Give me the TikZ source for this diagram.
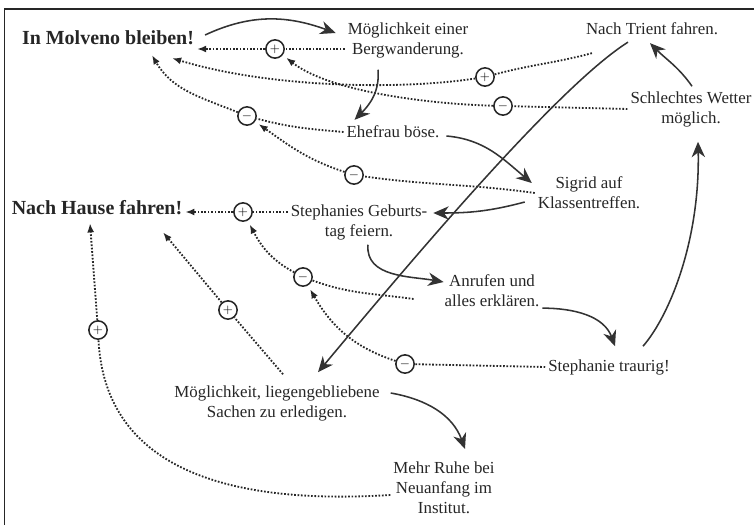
\documentclass[tikz,border=0pt]{standalone}
\usepackage{fontspec}
\setmainfont{Liberation Serif}
\usetikzlibrary{arrows.meta, calc}
\tikzstyle{factor} = [align=center, inner sep=2pt, text=black!85, font=\fontsize{12}{14.2}\selectfont]
\tikzstyle{goal} = [factor, font=\fontsize{14.2}{17}\selectfont\bfseries]
\tikzstyle{sign} = [circle, draw=black!85, line width=1.1pt, minimum size=13pt, inner sep=0pt, font=\fontsize{9}{9}\selectfont]
\tikzstyle{arrow} = [line width=1.1pt, draw=black!80, -{Stealth[length=11pt, width=9.5pt, inset=3.5pt]}]
\tikzstyle{infl} = [line width=1.3pt, draw=black!85, dash pattern=on 1.2pt off 1.2pt]
\tikzstyle{inflarrow} = [infl, -{Latex[length=6.5pt, width=5pt]}]
\begin{document}
\begin{tikzpicture}[x=0.025cm, y=0.025cm]
	\useasboundingbox (0,0) rectangle (754,-525);
	\draw [line width=1.4pt, black!85] (4.5,-525) -- (4.5,-9) -- (754,-9);
	\node (molveno) [goal] at (108,-38) {In Molveno bleiben!};
	\node (hause) [goal] at (97,-208) {Nach Hause fahren!};
	\node (berg) [factor] at (408,-40) {Möglichkeit einer\\Bergwanderung.};
	\node (trient) [factor] at (652,-29) {Nach Trient fahren.};
	\node (wetter) [factor] at (691,-109) {Schlechtes Wetter\\möglich.};
	\node (ehefrau) [factor] at (393,-132) {Ehefrau böse.};
	\node (sigrid) [factor] at (589,-193) {Sigrid auf\\Klassentreffen.};
	\node (geburt) [factor] at (359,-222) {Stephanies Geburts-\\tag feiern.};
	\node (anruf) [factor] at (492,-291) {Anrufen und\\alles erklären.};
	\node (traurig) [factor] at (609,-367) {Stephanie traurig!};
	\node (sachen) [factor] at (277,-403) {Möglichkeit, liegengebliebene\\Sachen zu erledigen.};
	\node (ruhe) [factor] at (444,-488) {Mehr Ruhe bei\\Neuanfang im\\Institut.};
	\node (pl1) [sign] at (275,-49) {$+$};
	\node (pl2) [sign] at (485,-77) {$+$};
	\node (pl3) [sign] at (243,-212) {$+$};
	\node (pl4) [sign] at (228,-310) {$+$};
	\node (pl5) [sign] at (98,-330) {$+$};
	\node (mi1) [sign] at (503,-106) {$-$};
	\node (mi2) [sign] at (247,-116) {$-$};
	\node (mi3) [sign] at (354,-175) {$-$};
	\node (mi4) [sign] at (303,-277) {$-$};
	\node (mi5) [sign] at (405,-364) {$-$};
	% dotted influences
	\draw [infl] (pl1 -| berg.west) -- (pl1);
	\draw [inflarrow] (pl1) -- (molveno.east |- pl1);
	\draw [infl] ($(trient.south west)+(9,-15)$) to[out=195,in=15] (pl2);
	\draw [inflarrow] (pl2) .. controls (400,-90) and (270,-88) .. ($(molveno.south east)+(-25,-10)$);
	\draw [infl] (wetter.west) -- (mi1);
	\draw [inflarrow, shorten >=3pt] (mi1) .. controls (430,-104) and (330,-92) .. (pl1);
	\draw [infl] (ehefrau.west) to[out=175,in=-15] (mi2);
	\draw [inflarrow] (mi2) to[out=158,in=-60] ($(molveno.south)+(44,-7)$);
	\draw [infl] (sigrid.west) to[out=172,in=-8] (mi3);
	\draw [inflarrow, shorten >=3pt] (mi3) to[out=162,in=-35] (mi2);
	\draw [infl] (pl3 -| geburt.west) -- (pl3);
	\draw [inflarrow] (pl3) -- (hause.east |- pl3);
	\draw [infl] ($(anruf.west)+(-28,-8)$) to[out=172,in=-20] (mi4);
	\draw [inflarrow, shorten >=3pt] (mi4) to[out=152,in=-62] (pl3);
	\draw [infl] (traurig.west) -- (mi5);
	\draw [inflarrow, shorten >=3pt] (mi5) to[out=162,in=-60] (mi4);
	\draw [infl] ($(sachen.north)+(6,8)$) -- (pl4);
	\draw [inflarrow] (pl4) -- ($(hause.south)+(66,-14)$);
	\draw [infl] ($(ruhe.west)+(0,-7)$) .. controls (230,-505) and (105,-470) .. (pl5);
	\draw [inflarrow] (pl5) -- ($(hause.south)+(-7,-5)$);
	% causal arrows
	\draw [arrow] ($(molveno.east)+(8,3)$) to[out=25,in=160] ($(berg.west)+(-9,7)$);
	\draw [arrow] ($(berg.south)+(-30,-9)$) to[out=-85,in=45] ($(ehefrau.north west)+(11,3)$);
	\draw [arrow] ($(wetter.north)+(1,2)$) to[out=125,in=-45] ($(trient.south)+(-2,-5)$);
	\draw [arrow] ($(traurig.north)+(34,10)$) .. controls (670,-315) and (700,-240) .. ($(wetter.south)+(7,-12)$);
	\draw [arrow] ($(trient.south)+(-24,-4)$) .. controls (560,-85) and (420,-250) .. ($(sachen.north)+(41,10)$);
	\draw [arrow] ($(ehefrau.east)+(4,-4)$) to[out=-5,in=140] ($(sigrid.west)+(-3,10)$);
	\draw [arrow] ($(sigrid.west)+(-10,-9)$) to[out=195,in=0] ($(geburt.east)+(3,9)$);
	\draw [arrow] ($(geburt.south)+(9,-2)$) to[out=-95,in=170] ($(anruf.west)+(2,9)$);
	\draw [arrow] ($(anruf.south east)+(0,2)$) to[out=0,in=110] ($(traurig.north)+(6,10)$);
	\draw [arrow] ($(sachen.east)+(8,10)$) to[out=-10,in=110] ($(ruhe.north)+(21,10)$);
\end{tikzpicture}
\end{document}
